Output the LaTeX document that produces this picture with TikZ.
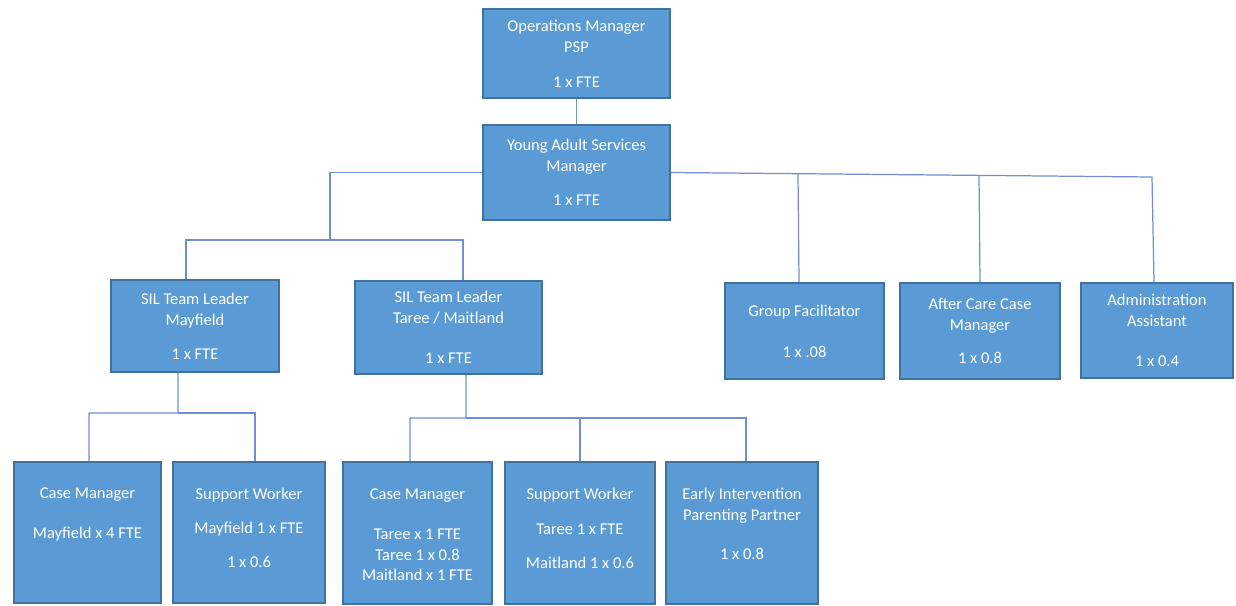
\documentclass[tikz,border=0pt]{standalone}
\usepackage{fontspec}
\setmainfont{Carlito}
\usepackage{tikz}
\usetikzlibrary{positioning}
\definecolor{boxfill}{HTML}{5B9BD5}
\definecolor{boxedge}{HTML}{41719C}
\definecolor{linkline}{HTML}{6E8FD6}
\newcommand{\toptext}[1]{\parbox[c][1.78cm][t]{2.9cm}{\centering #1}}
\tikzset{
  role/.style={draw=boxedge, line width=1.3pt, fill=boxfill, text=white,
    font=\fontsize{9.4}{11.9}\selectfont, align=center, inner sep=0pt},
  link/.style={draw=linkline, line width=0.7pt}
}

\begin{document}
\begin{tikzpicture}[x=0.02cm, y=-0.02cm]
    \useasboundingbox (0,0) rectangle (1236,605);

    % top of the chart
    \node[role, minimum width=3.74cm, minimum height=1.78cm] (ops) at (576.5,53.5)
      {Operations Manager\\PSP\\[7.9pt]1 x FTE};
    \node[role, minimum width=3.74cm, minimum height=1.9cm] (yas) at (576.5,172.5)
      {Young Adult Services\\Manager\\[7.5pt]1 x FTE};

    % team leaders and single roles
    \node[role, minimum width=3.36cm, minimum height=1.84cm] (silm) at (195,326)
      {SIL Team Leader\\Mayfield\\[7.5pt]1 x FTE};
    \node[role, minimum width=3.74cm, minimum height=1.86cm] (silt) at (448.5,327.5)
      {SIL Team Leader\\Taree / Maitland\\[10.8pt]1 x FTE};
    \node[role, minimum width=3.18cm, minimum height=1.92cm] (grpf) at (804.5,331)
      {Group Facilitator\\[11.3pt]1 x .08};
    \node[role, minimum width=3.2cm, minimum height=1.92cm] (aftc) at (980,331)
      {After Care Case\\Manager\\[7pt]1 x 0.8};
    \node[role, minimum width=3.04cm, minimum height=1.9cm] (admn) at (1157,330.5)
      {Administration\\Assistant\\[10.8pt]1 x 0.4};

    % Mayfield team
    \node[role, minimum width=2.94cm, minimum height=2.82cm] (cmmay) at (87.5,532.5)
      {\toptext{Case Manager\\[10.8pt]Mayfield x 4 FTE}};
    \node[role, minimum width=3.04cm, minimum height=2.82cm] (swmay) at (249,532.5)
      {\toptext{Support Worker\\[7.5pt]Mayfield 1 x FTE\\[7.5pt]1 x 0.6}};

    % Taree / Maitland team
    \node[role, minimum width=2.98cm, minimum height=2.84cm] (cmtar) at (417.5,533)
      {\toptext{Case Manager\\[10.8pt]Taree x 1 FTE\\Taree 1 x 0.8\\Maitland x 1 FTE}};
    \node[role, minimum width=3cm, minimum height=2.84cm] (swtar) at (580,533)
      {\toptext{Support Worker\\[7.5pt]Taree 1 x FTE\\[7.5pt]Maitland 1 x 0.6}};
    \node[role, minimum width=3.04cm, minimum height=2.84cm] (eipp) at (742,533)
      {\toptext{Early Intervention\\Parenting Partner\\[10.2pt]1 x 0.8}};

    % bus points
    \coordinate (lbus) at (330,240);
    \coordinate (rbus) at (1152,177);
    \coordinate (gfbus) at (798,173.5);
    \coordinate (acbus) at (979,175.5);
    \coordinate (mbus) at (178,413);
    \coordinate (tbus) at (466,418);

    \draw[link] (ops) -- (yas);
    \draw[link] (yas.west) -| (lbus) -| ([xshift=-0.18cm]silm.north);
    \draw[link] (lbus) -| ([xshift=0.29cm]silt.north);
    \draw[link] (yas.east) -- (rbus) -- ([xshift=-0.06cm]admn.north);
    \draw[link] (gfbus) -- ([xshift=-0.11cm]grpf.north);
    \draw[link] (acbus) -- (aftc.north);

    \draw[link] ([xshift=-0.34cm]silm.south) -- (mbus) -| ([xshift=0.03cm]cmmay.north);
    \draw[link] (mbus) -| ([xshift=0.12cm]swmay.north);
    \draw[link] ([xshift=0.35cm]silt.south) -- (tbus) -| ([xshift=-0.15cm]cmtar.north);
    \draw[link] (tbus) -| ([xshift=0.08cm]eipp.north);
    \draw[link] (tbus -| swtar.north) -- (swtar.north);
\end{tikzpicture}
\end{document}
